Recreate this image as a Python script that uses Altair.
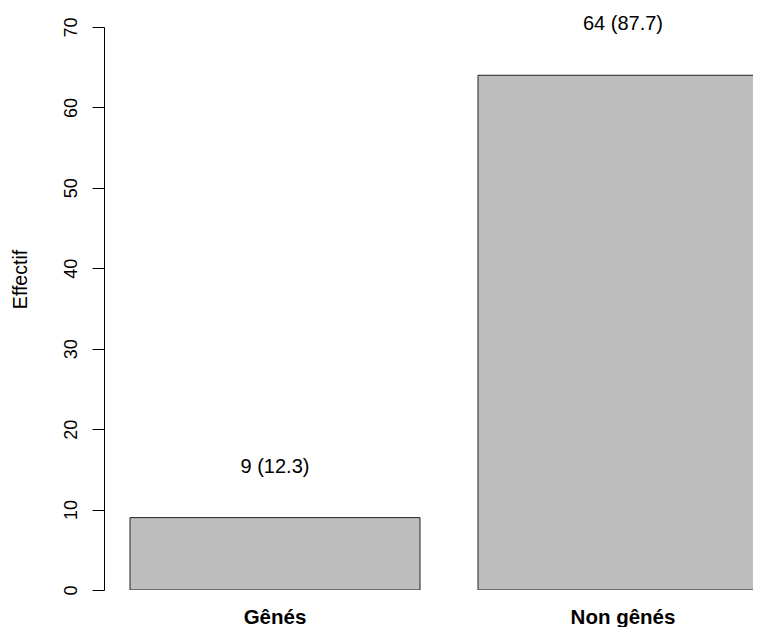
import altair as alt
import pandas as pd

categories = ["Gênés", "Non gênés"]
counts = [9, 64]
percents = [12.3, 87.7]
y_ticks = [0, 10, 20, 30, 40, 50, 60, 70]

df = pd.DataFrame({
    "cat": categories,
    "n": counts,
    "label": [f"{c} ({p})" for c, p in zip(counts, percents)],
})

FONT = "Liberation Sans"

x_enc = alt.X(
    "cat:N",
    sort=categories,
    scale=alt.Scale(range=[0, 690], paddingInner=1 / 6, paddingOuter=26 / 348),
    axis=alt.Axis(
        title=None, domain=False, ticks=False, labelAngle=0, grid=False,
        labelFont=FONT, labelFontSize=20.5, labelFontWeight="bold",
        labelColor="#000", labelBaseline="alphabetic", labelPadding=33,
    ),
)
y_enc = alt.Y(
    "n:Q",
    scale=alt.Scale(domain=[0, 70], nice=False, zero=True),
    axis=alt.Axis(
        title="Effectif", values=y_ticks, grid=False,
        domainColor="#000", domainWidth=1, tickColor="#000", tickWidth=1, tickSize=12,
        labelFont=FONT, labelFontSize=18, labelColor="#000", labelAngle=270,
        labelAlign="center", labelBaseline="alphabetic", labelPadding=16,
        titleFont=FONT, titleFontSize=19.5, titleFontWeight="normal", titleColor="#000",
        titleAngle=270, titleAlign="center", titleBaseline="alphabetic",
        titleX=-78, titleY=252,
    ),
)

bars = alt.Chart(df).mark_bar(
    color="#BEBEBE", stroke="#222", strokeWidth=1, clip=True
).encode(x=x_enc, y=y_enc)

texts = alt.Chart(df).mark_text(
    font=FONT, fontSize=20, color="#000", baseline="alphabetic", align="center", dy=-45
).encode(x=alt.X("cat:N", sort=categories), y=alt.Y("n:Q"), text="label:N")

chart = alt.layer(bars, texts).properties(
    width=649, height=563,
    autosize=alt.AutoSizeParams(type="none"),
    padding={"left": 96, "top": 19, "right": 0, "bottom": 37},
).configure(background="white").configure_view(stroke=None)

chart.save("out.html", embed_options={"renderer": "svg", "actions": False})
